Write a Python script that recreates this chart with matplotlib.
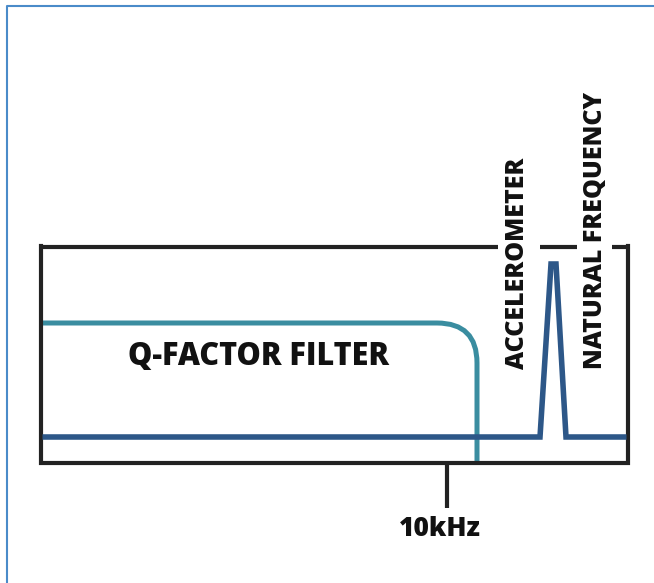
import matplotlib
matplotlib.use("Agg")
import matplotlib.pyplot as plt
from matplotlib.path import Path
from matplotlib.patches import PathPatch

# schematic values (pixel-like units, y grows downward)
box_left, box_right, box_top, box_bottom = 41, 628, 247, 463
top_gaps = [(498, 540), (577, 612)]

filter_level = 323
filter_cutoff = 477
filter_corner = 40

noise_level = 437
peak_x = [540, 551, 556, 566]
peak_y = [437, 264, 264, 437]

tick_x = 447
tick_len = 45
tick_label = "10kHz"

filter_label = "Q-FACTOR FILTER"
vert_labels = ["ACCELEROMETER", "NATURAL FREQUENCY"]
vert_x = [518, 595]

box_col = "#222222"
teal = "#3a8da0"
navy = "#2d5788"

plt.rcParams['font.family'] = ['Open Sans', 'DejaVu Sans']

fig = plt.figure(figsize=(6.54, 5.83), dpi=100)
ax = fig.add_axes([0, 0, 1, 1])
ax.set_xlim(0, 654)
ax.set_ylim(583, 0)
ax.axis("off")

# outer frame (top and left only visible)
ax.plot([7, 7, 654], [583, 5.5, 5.5], color="#4a8bc9", lw=1.5, solid_capstyle="butt")

# box with gaps in the top edge for vertical labels
segs = [box_left] + [v for g in top_gaps for v in g] + [box_right]
for i in range(0, len(segs), 2):
    ax.plot([segs[i], segs[i + 1]], [box_top, box_top], color=box_col, lw=3, solid_capstyle="butt")
ax.plot([box_left, box_left, box_right, box_right],
        [box_top - 1.5, box_bottom, box_bottom, box_top - 1.5],
        color=box_col, lw=3, solid_joinstyle="miter")

# filter response with rounded corner
verts = [(box_left + 1.5, filter_level), (filter_cutoff - filter_corner, filter_level),
         (filter_cutoff, filter_level), (filter_cutoff, filter_level + filter_corner),
         (filter_cutoff, box_bottom - 1.5)]
codes = [Path.MOVETO, Path.LINETO, Path.CURVE3, Path.CURVE3, Path.LINETO]
ax.add_patch(PathPatch(Path(verts, codes), fill=False, edgecolor=teal, lw=3.6,
                       capstyle="butt"))

# accelerometer response with resonance peak
ax.plot([box_left + 1.5] + peak_x + [box_right - 1.5],
        [noise_level] + peak_y + [noise_level],
        color=navy, lw=4.0, solid_joinstyle="miter", solid_capstyle="butt")

# tick + label
ax.plot([tick_x, tick_x], [box_bottom, box_bottom + tick_len], color=box_col, lw=3,
        solid_capstyle="butt")
ax.text(440, box_bottom + 66, tick_label, ha="center", va="center",
        fontsize=19, fontweight="heavy", color="#111111")

ax.text(258, 357, filter_label, ha="center", va="center", fontsize=22,
        fontweight="heavy", color="#111111")

for lbl, x in zip(vert_labels, vert_x):
    ax.text(x, 369, lbl, rotation=90, ha="center", va="bottom", fontsize=18,
            fontweight="heavy", color="#111111")

fig.savefig("out.png", dpi=100, facecolor="white")
